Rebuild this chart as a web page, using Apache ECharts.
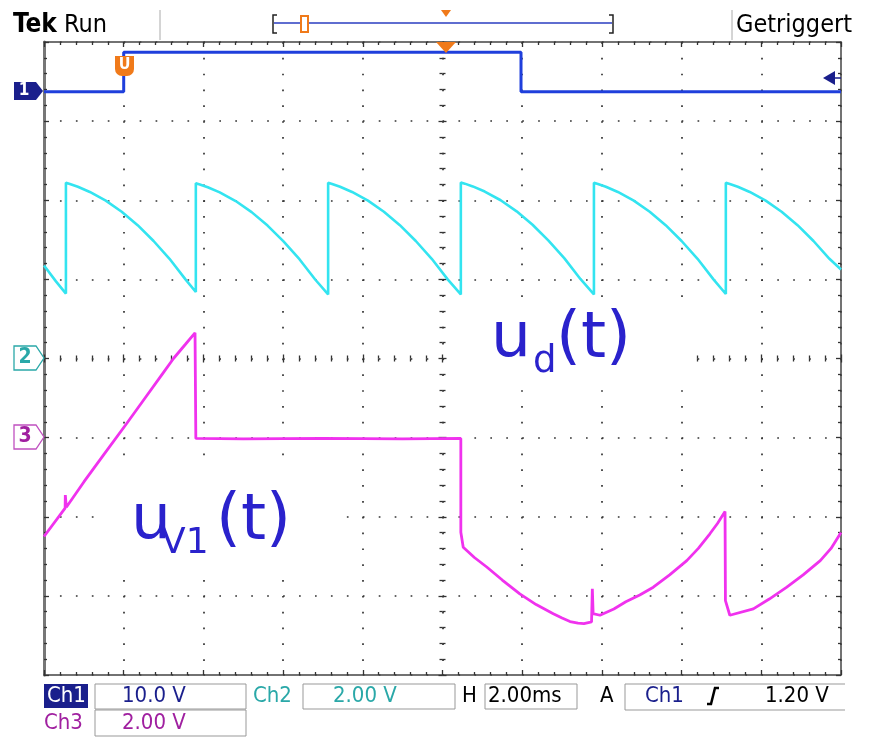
<!DOCTYPE html>
<html><head><meta charset="utf-8">
<script src="https://cdn.jsdelivr.net/npm/echarts@6/dist/echarts.min.js"></script>
<style>html,body{margin:0;padding:0;background:#fff}#c{width:870px;height:739px}</style>
</head><body><div id="c"></div>
<script>
// ---- data (time in ms, values in volts) ----
const ch1T = [0, 2.0, 2.0, 11.97, 11.97, 20];
const ch1V = [0, 0, 5.0, 5.0, 0, 0];

const ch2T = [0, 0.3, 0.55,
  0.55, 0.65, 0.85, 1.15, 1.55, 1.95, 2.35, 2.75, 3.15, 3.55, 3.81,
  3.81, 3.91, 4.11, 4.41, 4.81, 5.21, 5.61, 6.01, 6.41, 6.81, 7.13,
  7.13, 7.23, 7.43, 7.73, 8.13, 8.53, 8.93, 9.33, 9.73, 10.13, 10.46,
  10.46, 10.56, 10.76, 11.06, 11.46, 11.86, 12.26, 12.66, 13.06, 13.46, 13.80,
  13.80, 13.90, 14.10, 14.40, 14.80, 15.20, 15.60, 16.00, 16.40, 16.80, 17.11,
  17.11, 17.21, 17.41, 17.71, 18.11, 18.51, 18.91, 19.31, 19.71, 20.0];
const ch2V = [2.35, 1.95, 1.64,
  4.44, 4.41, 4.34, 4.21, 3.99, 3.71, 3.37, 2.97, 2.52, 2.00, 1.68,
  4.43, 4.40, 4.33, 4.20, 3.98, 3.70, 3.36, 2.96, 2.51, 1.99, 1.62,
  4.44, 4.41, 4.34, 4.21, 3.99, 3.71, 3.37, 2.97, 2.52, 2.00, 1.62,
  4.45, 4.42, 4.35, 4.22, 4.00, 3.72, 3.38, 2.98, 2.53, 2.01, 1.62,
  4.44, 4.41, 4.34, 4.21, 3.99, 3.71, 3.37, 2.97, 2.52, 2.00, 1.63,
  4.44, 4.41, 4.34, 4.21, 3.99, 3.71, 3.37, 2.97, 2.52, 2.25];

const ch3T = [0, 0.53, 0.535, 0.56, 1.0, 1.5, 2.07, 2.5, 3.0, 3.25, 3.55, 3.79,
  3.81, 5.0, 7.0, 9.0, 10.46,
  10.46, 10.52, 10.8, 11.11, 11.5, 11.94, 12.35, 12.78, 13.0, 13.2, 13.4, 13.55, 13.74, 13.76, 13.78,
  13.95, 14.3, 14.6, 14.95, 15.29, 15.7, 16.13, 16.42, 16.71, 16.9, 17.09,
  17.10, 17.21, 17.8, 18.2, 18.64, 19.05, 19.48, 19.75, 20.0];
const ch3V = [-2.50, -1.78, -1.45, -1.76, -1.12, -0.43, 0.35, 0.95, 1.65, 2.0, 2.36, 2.65,
  -0.02, -0.03, -0.02, -0.03, -0.02,
  -2.39, -2.77, -3.03, -3.27, -3.60, -3.95, -4.22, -4.45, -4.56, -4.65, -4.69, -4.70, -4.66, -3.82, -4.45,
  -4.49, -4.33, -4.15, -3.98, -3.78, -3.47, -3.11, -2.80, -2.43, -2.17, -1.87,
  -4.12, -4.49, -4.33, -4.08, -3.78, -3.47, -3.11, -2.80, -2.40];

// channel settings (volts per division, ground position in divisions)
const chVdiv = [10, 2, 2];
const chPos = [3.37, 0, -1];
const msPerDiv = 2;

const toDiv = (T, V, ch) => T.map((t, i) => [t, chPos[ch] + V[i] / chVdiv[ch]]);

const FONT = '"DejaVu Sans Condensed","Liberation Sans Narrow","DejaVu Sans",sans-serif';
const NAVY = '#1a1f8c', TEAL = '#2aa8a8', PURP = '#a020a0';

const dotV = {color: '#333', width: 1.7, type: [1.7, 14.125]};
const dotH = {color: '#333', width: 1.7, type: [1.7, 14.24]};

function xa(extra) {
  return Object.assign({type: 'value', min: 0, max: 10 * msPerDiv, interval: msPerDiv,
    axisLabel: {show: false}, splitLine: {show: false},
    axisLine: {show: false}, axisTick: {show: false}, minorTick: {show: false}}, extra);
}
function ya(extra) {
  return Object.assign({type: 'value', min: -4, max: 4, interval: 1,
    axisLabel: {show: false}, splitLine: {show: false},
    axisLine: {show: false}, axisTick: {show: false}, minorTick: {show: false}}, extra);
}
const tickIn = {show: true, inside: true, length: 5, lineStyle: {color: '#333', width: 1.3}};
const tickOut = {show: true, inside: false, length: 4, lineStyle: {color: '#333', width: 1.3}};
const minT = {show: true, splitNumber: 5, length: 3, lineStyle: {color: '#333', width: 1.3}};
const edge = {show: true, onZero: false, lineStyle: {color: '#444', width: 1.5}};

const chart = echarts.init(document.getElementById('c'), null, {renderer: 'canvas'});

function txt(x, y, s, color, size, extra) {
  return Object.assign({type: 'text', x: x, y: y, z: 100,
    style: {text: s, fill: color, font: (size || 21) + 'px ' + FONT, verticalAlign: 'middle', align: 'left'}}, extra || {});
}

const LBL = '#2a22cc';
const LF = '"DejaVu Sans",Verdana,sans-serif';

const graphic = [
  // header
  {type: 'text', x: 13, y: 25, z: 100, style: {text: '{b|Tek} Run', fill: '#000', font: '25px ' + FONT, verticalAlign: 'middle',
    rich: {b: {fontWeight: 'bold', fontSize: 26, fontFamily: FONT, fill: '#000'}}}},
  {type: 'line', z: 100, shape: {x1: 160, y1: 10, x2: 160, y2: 40}, style: {stroke: '#aaa', lineWidth: 1}},
  {type: 'line', z: 100, shape: {x1: 732, y1: 10, x2: 732, y2: 40}, style: {stroke: '#aaa', lineWidth: 1}},
  txt(736, 25, 'Getriggert', '#000', 25),
  {type: 'polyline', z: 100, shape: {points: [[277, 15], [273, 15], [273, 33], [277, 33]]}, style: {stroke: '#222', lineWidth: 1.5, fill: null}},
  {type: 'polyline', z: 100, shape: {points: [[609, 15], [613, 15], [613, 33], [609, 33]]}, style: {stroke: '#222', lineWidth: 1.5, fill: null}},
  {type: 'line', z: 100, shape: {x1: 274, y1: 23, x2: 612, y2: 23}, style: {stroke: '#2a3cc0', lineWidth: 1.5}},
  {type: 'rect', z: 101, shape: {x: 301, y: 16, width: 7, height: 16}, style: {stroke: '#f07a1a', lineWidth: 2, fill: '#fff'}},
  {type: 'polygon', z: 101, shape: {points: [[441, 10], [451, 10], [446, 17]]}, style: {fill: '#f07a1a'}},
  // trigger markers in plot
  {type: 'polygon', z: 101, shape: {points: [[436, 42], [456, 42], [446, 53]]}, style: {fill: '#f07a1a'}},
  {type: 'rect', z: 101, shape: {x: 115, y: 56, width: 19, height: 20, r: [0, 0, 7, 7]}, style: {fill: '#f07a1a'}},
  {type: 'text', x: 124.5, y: 65, z: 102, style: {text: 'U', fill: '#fff', font: 'bold 16px ' + FONT, align: 'center', verticalAlign: 'middle'}},
  {type: 'polygon', z: 101, shape: {points: [[823, 78], [835, 71], [835, 85]]}, style: {fill: NAVY}},
  {type: 'line', z: 101, shape: {x1: 835, y1: 78, x2: 841, y2: 78}, style: {stroke: NAVY, lineWidth: 1.5}},
  // channel ground markers
  {type: 'polygon', z: 101, shape: {points: [[14, 82], [36, 82], [43, 91], [36, 100], [14, 100]]}, style: {fill: NAVY}},
  {type: 'text', x: 24, y: 91, z: 102, style: {text: '1', fill: '#fff', font: 'bold 17px ' + FONT, align: 'center', verticalAlign: 'middle'}},
  {type: 'polygon', z: 101, shape: {points: [[14, 346], [36, 346], [44, 358], [36, 370], [14, 370]]}, style: {stroke: TEAL, lineWidth: 1.3, fill: '#fff'}},
  {type: 'text', x: 25, y: 358, z: 102, style: {text: '2', fill: TEAL, font: 'bold 21px ' + FONT, align: 'center', verticalAlign: 'middle'}},
  {type: 'polygon', z: 101, shape: {points: [[14, 425], [36, 425], [44, 437], [36, 449], [14, 449]]}, style: {stroke: '#c050c0', lineWidth: 1.3, fill: '#fff'}},
  {type: 'text', x: 25, y: 437, z: 102, style: {text: '3', fill: PURP, font: 'bold 21px ' + FONT, align: 'center', verticalAlign: 'middle'}},
  // footer
  {type: 'rect', z: 100, shape: {x: 44, y: 684, width: 44, height: 24}, style: {fill: NAVY}},
  txt(47, 696, 'Ch1', '#fff', 22),
  {type: 'rect', z: 100, shape: {x: 95, y: 684, width: 151, height: 25}, style: {stroke: '#999', lineWidth: 1, fill: null}},
  txt(122, 696, '10.0 V', NAVY, 22),
  txt(253, 696, 'Ch2', TEAL, 22),
  {type: 'rect', z: 100, shape: {x: 303, y: 684, width: 152, height: 25}, style: {stroke: '#999', lineWidth: 1, fill: null}},
  txt(333, 696, '2.00 V', TEAL, 22),
  txt(462, 696, 'H', '#000', 22),
  {type: 'rect', z: 100, shape: {x: 485, y: 684, width: 92, height: 25}, style: {stroke: '#999', lineWidth: 1, fill: null}},
  txt(488, 696, '2.00ms', '#000', 22),
  txt(600, 696, 'A', '#000', 22),
  {type: 'polyline', z: 100, shape: {points: [[845, 684], [625, 684], [625, 710], [845, 710]]}, style: {stroke: '#999', lineWidth: 1, fill: null}},
  txt(645, 696, 'Ch1', NAVY, 22),
  {type: 'polyline', z: 100, shape: {points: [[707, 704], [711, 704], [715, 688], [719, 688]]}, style: {stroke: '#000', lineWidth: 2.5, fill: null}},
  txt(765, 696, '1.20 V', '#000', 22),
  txt(44, 723, 'Ch3', PURP, 22),
  {type: 'rect', z: 100, shape: {x: 95, y: 710, width: 151, height: 26}, style: {stroke: '#999', lineWidth: 1, fill: null}},
  txt(122, 723, '2.00 V', PURP, 22),
  // annotation boxes + labels
  {type: 'rect', z: 1, shape: {x: 447, y: 298, width: 239, height: 91}, style: {fill: '#fff'}},
  {type: 'rect', z: 1, shape: {x: 98, y: 468, width: 244, height: 108}, style: {fill: '#fff'}},
  {type: 'text', x: 491, y: 340, z: 100, style: {text: 'u', fill: LBL, font: '63px ' + LF, verticalAlign: 'middle'}},
  {type: 'text', x: 533, y: 362, z: 100, style: {text: 'd', fill: LBL, font: '37px ' + LF, verticalAlign: 'middle'}},
  {type: 'text', x: 556, y: 340, z: 100, style: {text: '(t)', fill: LBL, font: '64px ' + LF, verticalAlign: 'middle'}},
  {type: 'text', x: 131, y: 522, z: 100, style: {text: 'u', fill: LBL, font: '63px ' + LF, verticalAlign: 'middle'}},
  {type: 'text', x: 161, y: 544, z: 100, style: {text: 'V1', fill: LBL, font: '36px ' + LF, verticalAlign: 'middle'}},
  {type: 'text', x: 216, y: 522, z: 100, style: {text: '(t)', fill: LBL, font: '64px ' + LF, verticalAlign: 'middle'}}
];

const option = {
  animation: false,
  backgroundColor: '#fff',
  grid: {left: 44, top: 42, width: 797, height: 633, show: false},
  xAxis: [
    xa({position: 'bottom', axisLine: edge, axisTick: tickIn, minorTick: minT, splitLine: {show: true, lineStyle: dotV}}),
    xa({position: 'top', axisLine: edge, axisTick: tickIn, minorTick: minT}),
    xa({position: 'bottom', offset: -316.5, axisTick: Object.assign({}, tickIn, {length: 4}), minorTick: minT}),
    xa({position: 'bottom', offset: -316.5, axisTick: tickOut, minorTick: minT})
  ],
  yAxis: [
    ya({position: 'left', axisLine: {show: true, onZero: false, lineStyle: {color: '#777', width: 3}}, axisTick: tickIn, minorTick: minT, splitLine: {show: true, lineStyle: dotH}}),
    ya({position: 'right', axisLine: edge, axisTick: tickIn, minorTick: minT}),
    ya({position: 'left', offset: -398.5, axisTick: Object.assign({}, tickIn, {length: 4}), minorTick: minT}),
    ya({position: 'left', offset: -398.5, axisTick: tickOut, minorTick: minT})
  ],
  series: [
    {name: 'Ch3', type: 'line', data: toDiv(ch3T, ch3V, 2), showSymbol: false, z: 3,
      lineStyle: {color: '#f032ee', width: 2.8}},
    {name: 'Ch2', type: 'line', data: toDiv(ch2T, ch2V, 1), showSymbol: false, z: 3,
      lineStyle: {color: '#33e4f0', width: 2.6}},
    {name: 'Ch1', type: 'line', data: toDiv(ch1T, ch1V, 0), showSymbol: false, z: 4,
      lineStyle: {color: '#1f3fdc', width: 3}}
  ],
  graphic: graphic
};
chart.setOption(option);
</script></body></html>
